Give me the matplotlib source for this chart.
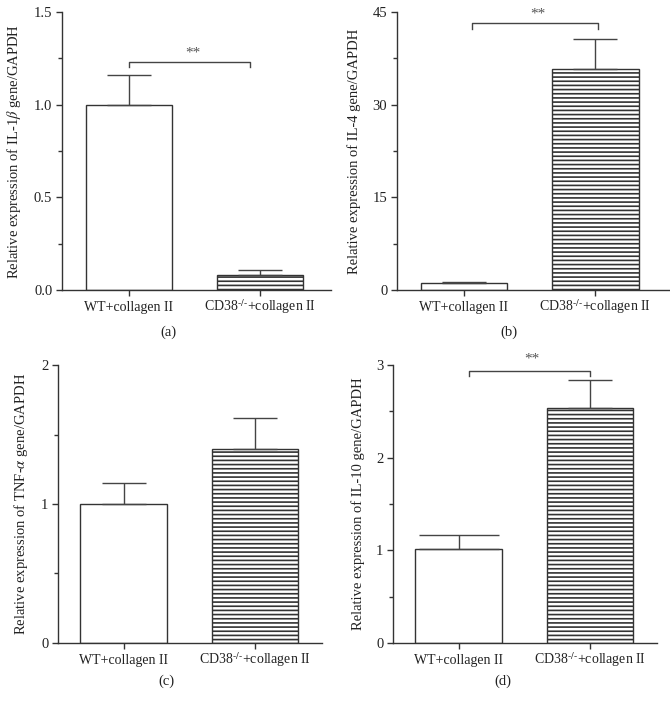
import matplotlib
matplotlib.use('Agg')
from matplotlib import pyplot as plt

plt.rcParams['font.family'] = ['Liberation Serif', 'DejaVu Serif']
plt.rcParams['mathtext.fontset'] = 'stix'
plt.rcParams['hatch.linewidth'] = 1.2

groups = ['WT+collagen II', 'CD38$^{\\text{-/-}}$+collagen II']

il1b_mean = [1.0, 0.081]
il1b_top = [1.160, 0.106]
il4_mean = [1.08, 35.8]
il4_top = [1.24, 40.7]
tnfa_mean = [1.0, 1.396]
tnfa_top = [1.151, 1.621]
il10_mean = [1.011, 2.536]
il10_top = [1.165, 2.838]

ylabels = ['Relative expression of IL-1$\\it{\\beta}$ gene/GAPDH',
           'Relative expression of IL-4 gene/GAPDH',
           'Relative expression of TNF-$\\alpha$ gene/GAPDH',
           'Relative expression of IL-10 gene/GAPDH']
panel_tags = ['(a)', '(b)', '(c)', '(d)']

ylims = [1.5, 45, 2, 3]
majors = [[0, 0.5, 1.0, 1.5], [0, 15, 30, 45], [0, 1, 2], [0, 1, 2, 3]]
minors = [[0.25, 0.75, 1.25], [7.5, 22.5, 37.5], [0.5, 1.5], [0.5, 1.5, 2.5]]
tickfmt = ['{:.1f}', '{:.0f}', '{:.0f}', '{:.0f}']

# significance bracket: (x0, x1, y, tick depth, star x, star y) or None
brackets = [(0.0, 0.92, 1.229, 0.024, 0.49, 1.245),
            (0.06, 1.02, 43.2, 1.0, 0.56, 43.6),
            None,
            (0.08, 1.0, 2.939, 0.06, 0.56, 2.99)]

means = [il1b_mean, il4_mean, tnfa_mean, il10_mean]
tops = [il1b_top, il4_top, tnfa_top, il10_top]

# axes rectangles in figure fraction
rects = [[0.0925, 0.5915, 0.4015, 0.3915],
         [0.5925, 0.5915, 0.406, 0.3915],
         [0.0866, 0.0944, 0.394, 0.3915],
         [0.5866, 0.0944, 0.394, 0.3915]]
xlims = [(-0.51, 1.54), (-0.51, 1.56), (-0.50, 1.51), (-0.50, 1.51)]
tag_pos = [(0.251, 0.532), (0.760, 0.532), (0.249, 0.041), (0.751, 0.041)]
caps = [[16, 16], [16, 16], [16, 16], [29, 16]]

edge = '#333333'
fig = plt.figure(figsize=(6.7, 7.1), dpi=100)

for i in range(4):
    ax = fig.add_axes(rects[i])
    x = [0, 1]
    ax.bar(x[0], means[i][0], width=0.66, color='white', edgecolor=edge, linewidth=1.0, zorder=2)
    ax.bar(x[1], means[i][1], width=0.66, color='white', edgecolor=edge, linewidth=1.0,
           hatch='----', zorder=2)
    for j in range(2):
        up = tops[i][j] - means[i][j]
        ax.errorbar(x[j], means[i][j], yerr=[[0], [up]], fmt='none', ecolor='#444444',
                    elinewidth=1.0, capsize=caps[i][j], capthick=1.0, zorder=3)
    ax.set_xlim(*xlims[i])
    ax.set_ylim(0, ylims[i])
    ax.set_xticks(x)
    ax.set_xticklabels(groups, fontsize=10)
    for lab in ax.get_xticklabels():
        lab.set_verticalalignment('baseline')
    ax.set_yticks(majors[i])
    ax.set_yticklabels([tickfmt[i].format(v) for v in majors[i]], fontsize=10.5)
    ax.set_yticks(minors[i], minor=True)
    ax.tick_params(axis='both', which='major', direction='out', length=4, width=1.0,
                   color=edge, labelcolor='#222222', pad=3)
    ax.tick_params(axis='y', which='minor', direction='out', length=3, width=1.0, color=edge)
    ax.tick_params(axis='x', pad=11)
    for s in ['top', 'right']:
        ax.spines[s].set_visible(False)
    for s in ['left', 'bottom']:
        ax.spines[s].set_color(edge)
        ax.spines[s].set_linewidth(1.0)
    ax.set_ylabel(ylabels[i], fontsize=10.5, color='#222222', labelpad=8)

    b = brackets[i]
    if b is not None:
        x0, x1, yb, d, sx, sy = b
        ax.plot([x0, x0, x1, x1], [yb - d, yb, yb, yb - d], color='#444444', lw=1.0,
                clip_on=False, zorder=4)
        ax.text(sx, sy, '**', ha='center', va='bottom', fontsize=11, color='#555555',
                clip_on=False)

    fig.text(tag_pos[i][0], tag_pos[i][1], panel_tags[i], ha='center', va='center',
             fontsize=10.5, color='#222222')

plt.savefig('out.png', dpi=100)
